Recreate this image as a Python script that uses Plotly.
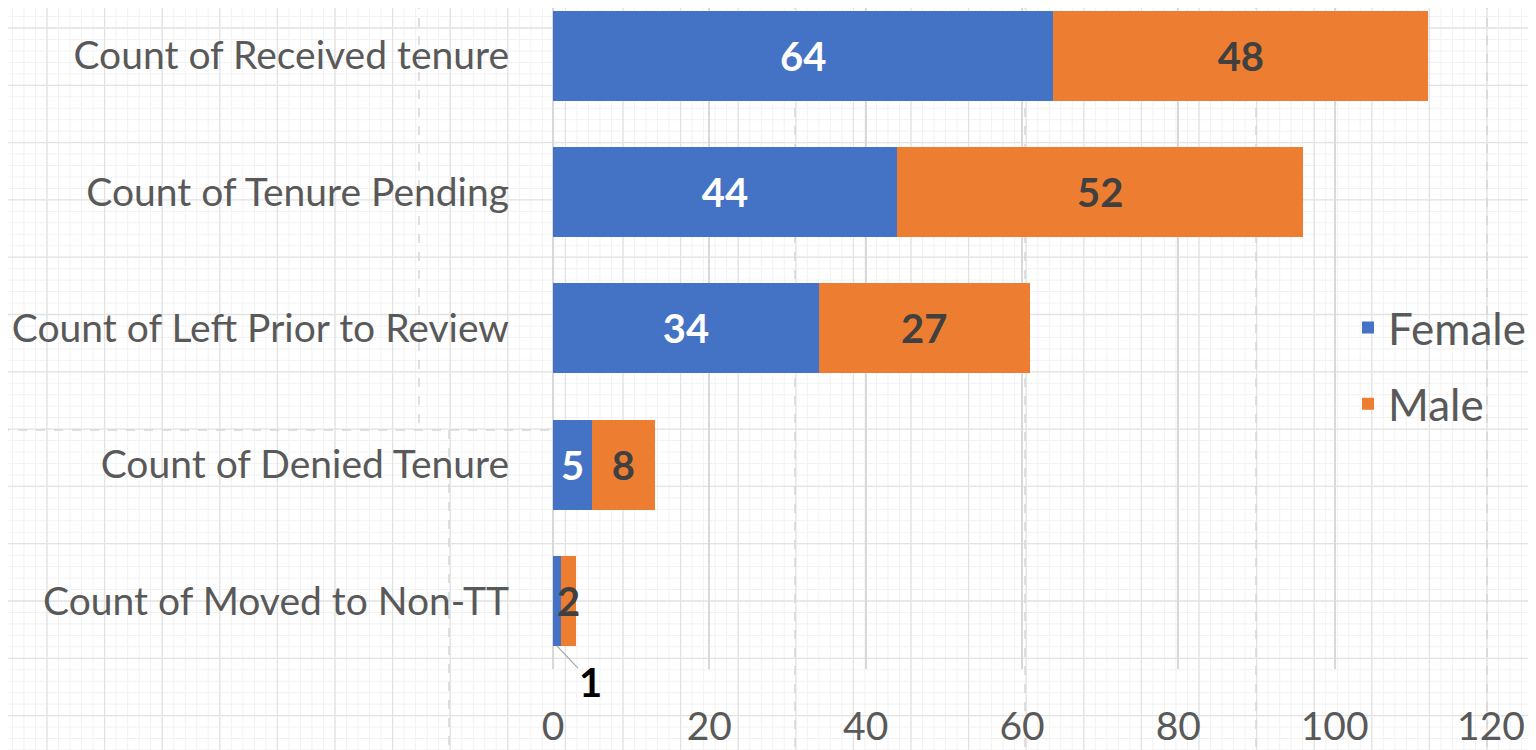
import plotly.graph_objects as go

# ---------------- data ----------------
categories = [
    "Count of Received tenure",
    "Count of Tenure Pending",
    "Count of Left Prior to Review",
    "Count of Denied Tenure",
    "Count of Moved to Non-TT",
]
female = [64, 44, 34, 5, 1]
male = [48, 52, 27, 8, 2]
x_ticks = [0, 20, 40, 60, 80, 100, 120]

# ---------------- style ----------------
# the page body has an 8px default margin, so the figure is sized to fit the window
OFF = 8
FW, FH = 1536 - OFF, 750 - OFF
BLUE = "#4472C4"
ORANGE = "#ED7D31"
GREY_TXT = "#595959"
FONT = "Lato"
BARGAP = 0.34


def px(x):  # page pixel -> paper x
    return (x - OFF) / FW


def py(y):  # page pixel -> paper y
    return 1 - (y - OFF) / FH


y_pos = [len(categories) - 1 - i for i in range(len(categories))]

# text placement: the tiny female bar gets an outside callout instead
female_textpos = ["inside" if v >= 3 else "none" for v in female]

fig = go.Figure()
fig.add_trace(go.Bar(
    name="Female", y=y_pos, x=female, orientation="h",
    marker=dict(color=BLUE, line=dict(width=0)),
    text=[str(v) for v in female], textposition=female_textpos,
    insidetextanchor="middle", textangle=0,
    textfont=dict(family=FONT, size=40, color="white", weight="bold"),
    legendgroup="f", cliponaxis=False,
))
fig.add_trace(go.Bar(
    name="Male", y=y_pos, x=male, orientation="h",
    marker=dict(color=ORANGE, line=dict(width=0)),
    text=[str(v) for v in male], textposition="inside",
    insidetextanchor="middle", textangle=0,
    textfont=dict(family=FONT, size=40, color="#404040", weight="bold"),
    legendgroup="m", cliponaxis=False,
))

# callout for the small female value
half_bar = (1 - BARGAP) / 2
fig.add_annotation(
    x=female[-1] / 2, y=y_pos[-1] - half_bar, xref="x", yref="y",
    text=f"<b>{female[-1]}</b>", showarrow=True, arrowhead=0,
    arrowcolor="#a6a6a6", arrowwidth=1.2, ax=34, ay=36,
    font=dict(family=FONT, size=40, color="black"),
)

# ---------------- spreadsheet-like background grid (decoration) ----------------
PW, PH = 1536, 750
fine_step_x, fine_step_y = 11.52, 11.46
major_step_x, major_step_y = 57.6, 57.3
major_off_x, major_off_y = 47.0, 28.0

fine_path = []
xv = major_off_x % fine_step_x
while xv < PW:
    fine_path.append(f"M{px(xv):.5f},{py(0):.5f} L{px(xv):.5f},{py(PH):.5f}")
    xv += fine_step_x
yv = major_off_y % fine_step_y
while yv < PH:
    fine_path.append(f"M{px(0):.5f},{py(yv):.5f} L{px(PW):.5f},{py(yv):.5f}")
    yv += fine_step_y

major_path = []
xv = major_off_x % major_step_x
while xv < PW:
    major_path.append(f"M{px(xv):.5f},{py(0):.5f} L{px(xv):.5f},{py(PH):.5f}")
    xv += major_step_x
yv = major_off_y % major_step_y
while yv < PH:
    major_path.append(f"M{px(0):.5f},{py(yv):.5f} L{px(PW):.5f},{py(yv):.5f}")
    yv += major_step_y

shapes = [
    dict(type="path", xref="paper", yref="paper", path=" ".join(fine_path),
         line=dict(color="#f2f2f2", width=1), layer="below"),
    dict(type="path", xref="paper", yref="paper", path=" ".join(major_path),
         line=dict(color="#e3e3e3", width=1.3), layer="below"),
]
# page-break dashed lines
dash_segments = [
    (419, 0, 419, 430),
    (449, 430, 449, PH),
    (795, 0, 795, PH),
    (1025, 0, 1025, PH),
    (1256, 0, 1256, PH),
    (1487, 0, 1487, PH),
    (0, 430, 553, 430),
]
for x0, y0, x1, y1 in dash_segments:
    shapes.append(dict(type="path", xref="paper", yref="paper",
                       path=f"M{px(x0):.5f},{py(y0):.5f} L{px(x1):.5f},{py(y1):.5f}",
                       line=dict(color="#d6d6d6", width=1.5, dash="dash"), layer="below"))

plot_top, plot_bottom = OFF, 669          # page pixels
row_step = 136.3
fig.update_layout(
    width=FW, height=FH,
    margin=dict(l=0, r=0, t=0, b=0, autoexpand=False),
    paper_bgcolor="white",
    plot_bgcolor="rgba(0,0,0,0)",
    barmode="stack", bargap=BARGAP,
    uniformtext=dict(minsize=40, mode="show"),
    font=dict(family=FONT, color=GREY_TXT),
    shapes=shapes,
    xaxis=dict(
        domain=[px(553), px(1491)], range=[0, 120],
        tickvals=x_ticks, ticktext=[str(t) for t in x_ticks],
        showgrid=True, gridcolor="#d9d9d9", gridwidth=1.5,
        zeroline=True, zerolinecolor="#d9d9d9", zerolinewidth=1.5,
        showline=False, ticks="", ticklabelstandoff=31,
        tickfont=dict(family=FONT, size=39, color=GREY_TXT),
        automargin=False, fixedrange=True,
    ),
    yaxis=dict(
        domain=[py(plot_bottom), 1],
        range=[-0.5, (plot_bottom - plot_top) / row_step - 0.5],
        tickvals=y_pos, ticktext=categories,
        showgrid=False, zeroline=False, showline=False, ticks="",
        ticklabelstandoff=43,
        tickfont=dict(family=FONT, size=39, color=GREY_TXT),
        automargin=False, fixedrange=True,
    ),
    legend=dict(
        x=px(1348), y=py(366), xanchor="left", yanchor="middle",
        bgcolor="rgba(0,0,0,0)", traceorder="grouped", tracegroupgap=16,
        font=dict(family=FONT, size=44, color=GREY_TXT),
        itemwidth=30,
    ),
    showlegend=True,
)

fig.write_html("out.html")
